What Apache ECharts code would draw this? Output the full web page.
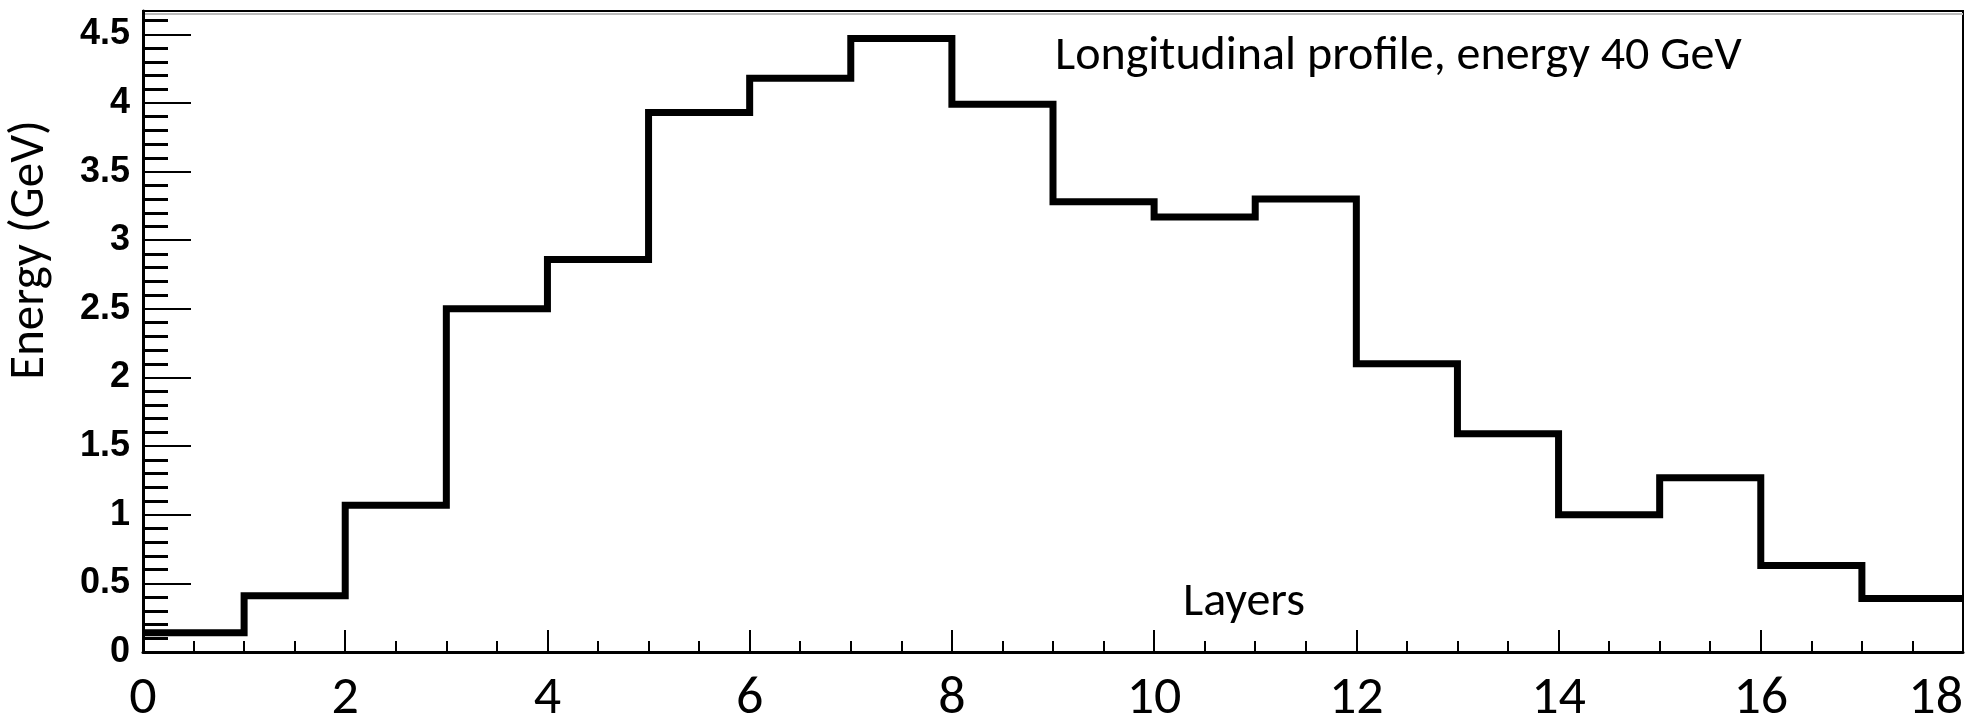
<!DOCTYPE html>
<html>
<head>
<meta charset="utf-8">
<title>Longitudinal profile</title>
<script src="https://cdn.jsdelivr.net/npm/echarts@6/dist/echarts.min.js"></script>
<style>
  html, body { margin: 0; padding: 0; background: #fff; }
  #chart { width: 1974px; height: 720px; }
</style>
</head>
<body>
<div id="chart"></div>
<script>
  // energy deposited per layer (GeV), one value per bin [i, i+1)
  var layers = [0, 1, 2, 3, 4, 5, 6, 7, 8, 9, 10, 11, 12, 13, 14, 15, 16, 17];
  var energy = [0.14, 0.41, 1.07, 2.50, 2.86, 3.93, 4.18, 4.47, 3.99,
                3.28, 3.17, 3.30, 2.10, 1.59, 1.00, 1.27, 0.63, 0.39];
  var xMax = 18;
  var yMax = 4.67;

  var titleText = 'Longitudinal profile, energy 40 GeV';
  var xName = 'Layers';
  var yName = 'Energy (GeV)';

  // step points: left edge of each bin, plus the closing right edge
  var stepData = layers.map(function (x, i) { return [x, energy[i]]; });
  stepData.push([xMax, energy[energy.length - 1]]);

  var textFont = 'Carlito, "Open Sans", sans-serif';

  var myChart = echarts.init(document.getElementById('chart'));
  var option = {
    animation: false,
    backgroundColor: '#fff',
    grid: {
      left: 143,
      right: 11,
      top: 11,
      bottom: 68,
      outerBoundsMode: 'none',
      show: true,
      borderColor: '#000',
      borderWidth: 2
    },
    xAxis: {
      type: 'value',
      min: 0,
      max: xMax,
      interval: 2,
      axisLine: { show: true, onZero: false, lineStyle: { color: '#000', width: 3 } },
      axisTick: { show: true, inside: true, length: 22, lineStyle: { color: '#000', width: 2 } },
      minorTick: { show: true, splitNumber: 4, length: 11, lineStyle: { color: '#000', width: 2 } },
      splitLine: { show: false },
      axisLabel: {
        color: '#000',
        fontFamily: textFont,
        fontSize: 54,
        margin: 20,
        alignMaxLabel: 'right'
      }
    },
    yAxis: {
      type: 'value',
      min: 0,
      max: yMax,
      interval: 0.5,
      axisLine: { show: true, onZero: false, lineStyle: { color: '#000', width: 3 } },
      axisTick: { show: true, inside: true, length: 48, lineStyle: { color: '#000', width: 2 } },
      minorTick: { show: true, splitNumber: 5, length: 25, lineStyle: { color: '#000', width: 3 } },
      splitLine: { show: false },
      axisLabel: {
        color: '#000',
        fontFamily: '"Liberation Sans", Arial, sans-serif',
        fontWeight: 'bold',
        fontSize: 36,
        margin: 13,
        showMaxLabel: false
      }
    },
    graphic: [
      {
        type: 'line',
        shape: { x1: 143, y1: 14, x2: 1963, y2: 14 },
        style: { stroke: '#bbb', lineWidth: 2 }
      },
      {
        type: 'text',
        x: 1055,
        y: 57,
        style: {
          text: titleText,
          fill: '#000',
          font: '48px ' + textFont,
          verticalAlign: 'middle'
        }
      },
      {
        type: 'text',
        x: 1183,
        y: 603,
        style: {
          text: xName,
          fill: '#000',
          font: '48px ' + textFont,
          verticalAlign: 'middle'
        }
      },
      {
        type: 'text',
        x: 31,
        y: 250,
        rotation: Math.PI / 2,
        style: {
          text: yName,
          fill: '#000',
          font: '49px ' + textFont,
          align: 'center',
          verticalAlign: 'middle'
        }
      }
    ],
    series: [{
      name: 'energy',
      type: 'line',
      step: 'end',
      data: stepData,
      symbol: 'none',
      lineStyle: { color: '#000', width: 7, join: 'miter' }
    }]
  };
  myChart.setOption(option);
</script>
</body>
</html>
